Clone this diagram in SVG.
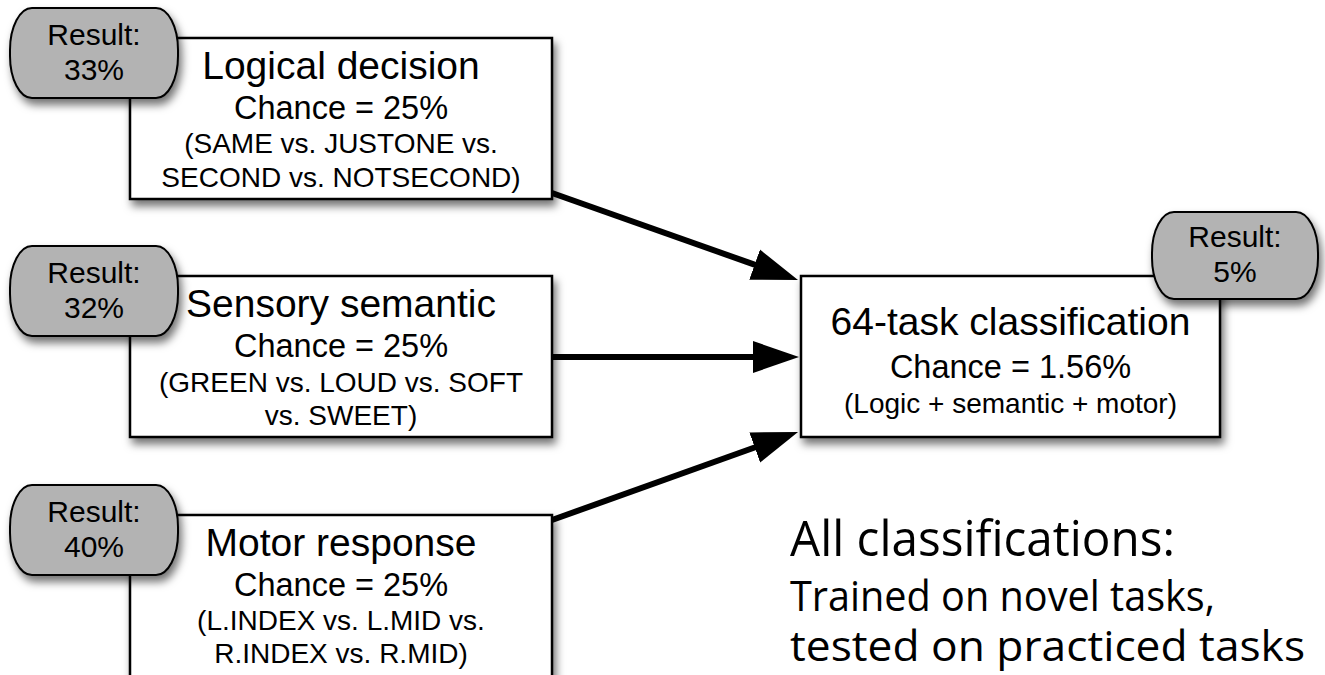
<svg xmlns="http://www.w3.org/2000/svg" width="1325" height="675" viewBox="0 0 1325 675">
  <defs>
    <filter id="shadow" x="-20%" y="-20%" width="140%" height="150%">
      <feDropShadow dx="3" dy="6" stdDeviation="4" flood-color="#000" flood-opacity="0.55"/>
    </filter>
    <marker id="ah" markerUnits="userSpaceOnUse" markerWidth="46" markerHeight="34" viewBox="0 0 46 34" refX="16" refY="17" orient="auto">
      <path d="M0,1 L46,17 L0,33 z" fill="#000"/>
    </marker>
    <style>
      .box { fill:#fff; stroke:#000; stroke-width:2.5; filter:url(#shadow); }
      .pill { fill:#b3b3b3; stroke:#000; stroke-width:2; filter:url(#shadow); }
      .conn { stroke:#000; stroke-width:6; fill:none; marker-end:url(#ah); }
      text { font-family:"Liberation Sans", Arial, sans-serif; fill:#000; text-anchor:middle; }
      .h { font-size:39px; }
      .c { font-size:32.5px; }
      .s { font-size:28px; }
      .p { font-size:30px; }
      .note { font-family:"Open Sans", "Liberation Sans", sans-serif; text-anchor:start; }
    </style>
  </defs>
  <rect width="1325" height="675" fill="#fff"/>

  <g id="connectors">
    <line class="conn" x1="552" y1="193" x2="769.7" y2="270"/>
    <line class="conn" x1="552" y1="357" x2="769" y2="357"/>
    <line class="conn" x1="552" y1="520" x2="769.8" y2="442.1"/>
  </g>

  <g id="logical">
    <rect class="box" x="130" y="38" width="422" height="161"/>
    <text class="h" x="341" y="79">Logical decision</text>
    <text class="c" x="341" y="119">Chance = 25%</text>
    <text class="s" x="341" y="153">(SAME vs. JUSTONE vs.</text>
    <text class="s" x="341" y="187">SECOND vs. NOTSECOND)</text>
  </g>
  <g id="result-logical">
    <rect class="pill" x="10" y="8" width="168" height="90" rx="22" ry="42"/>
    <text class="p" x="94" y="45">Result:</text>
    <text class="p" x="94" y="80">33%</text>
  </g>

  <g id="sensory">
    <rect class="box" x="130" y="276" width="422" height="161"/>
    <text class="h" x="341" y="317">Sensory semantic</text>
    <text class="c" x="341" y="357">Chance = 25%</text>
    <text class="s" x="341" y="392">(GREEN vs. LOUD vs. SOFT</text>
    <text class="s" x="341" y="425">vs. SWEET)</text>
  </g>
  <g id="result-sensory">
    <rect class="pill" x="10" y="246" width="168" height="90" rx="22" ry="42"/>
    <text class="p" x="94" y="283">Result:</text>
    <text class="p" x="94" y="318">32%</text>
  </g>

  <g id="motor">
    <rect class="box" x="130" y="515" width="422" height="180"/>
    <text class="h" x="341" y="556">Motor response</text>
    <text class="c" x="341" y="596">Chance = 25%</text>
    <text class="s" x="341" y="630">(L.INDEX vs. L.MID vs.</text>
    <text class="s" x="341" y="663">R.INDEX vs. R.MID)</text>
  </g>
  <g id="result-motor">
    <rect class="pill" x="10" y="485" width="168" height="90" rx="22" ry="42"/>
    <text class="p" x="94" y="522">Result:</text>
    <text class="p" x="94" y="557">40%</text>
  </g>

  <g id="task64">
    <rect class="box" x="801" y="276" width="419" height="161"/>
    <text class="h" x="1010.5" y="335">64-task classification</text>
    <text class="c" x="1010.5" y="378">Chance = 1.56%</text>
    <text class="s" x="1010.5" y="413">(Logic + semantic + motor)</text>
  </g>
  <g id="result-task64">
    <rect class="pill" x="1152" y="212" width="166" height="87" rx="22" ry="41"/>
    <text class="p" x="1235" y="247">Result:</text>
    <text class="p" x="1235" y="282">5%</text>
  </g>

  <g id="note">
    <text class="note" x="790" y="556" font-size="50" textLength="385" lengthAdjust="spacingAndGlyphs">All classifications:</text>
    <text class="note" x="790" y="611" font-size="42" textLength="425" lengthAdjust="spacingAndGlyphs">Trained on novel tasks,</text>
    <text class="note" x="790" y="661" font-size="42" textLength="515" lengthAdjust="spacingAndGlyphs">tested on practiced tasks</text>
  </g>
</svg>
